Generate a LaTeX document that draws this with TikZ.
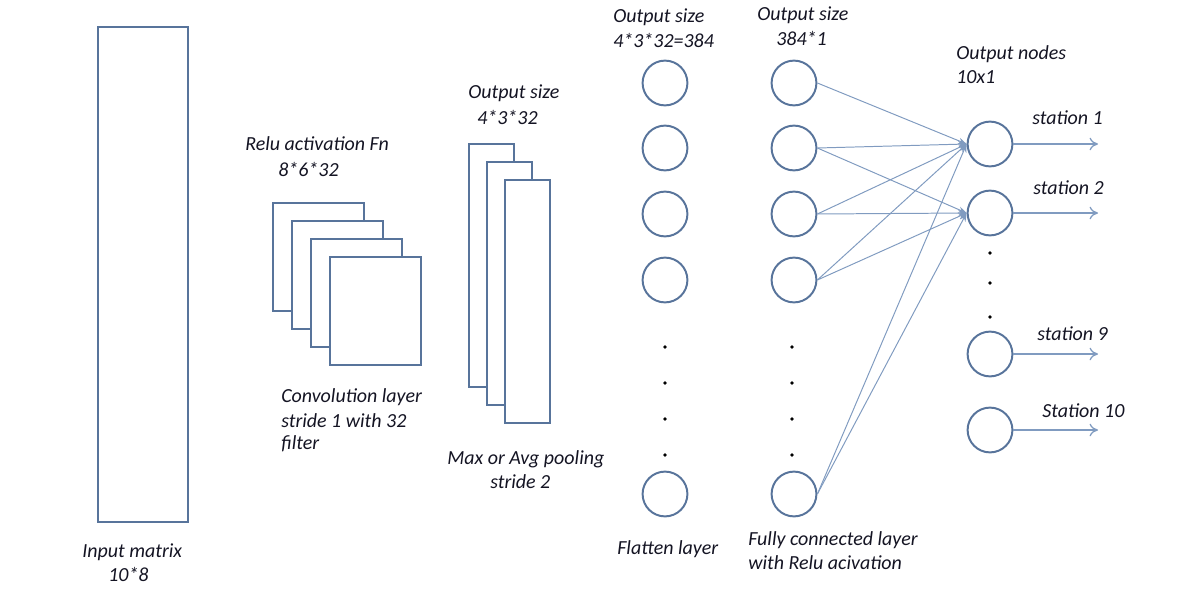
\documentclass[tikz,border=0pt]{standalone}
\usepackage{fontspec}
\setmainfont{Carlito}
\usetikzlibrary{arrows.meta}
\definecolor{boxblue}{RGB}{88,116,155}
\definecolor{linkblue}{RGB}{128,155,192}
\definecolor{txtdark}{RGB}{20,20,35}

\begin{document}
\begin{tikzpicture}[x=0.025cm,y=-0.025cm,
	box/.style={draw=boxblue,line width=1.4pt,fill=white},
	neuron/.style={circle,draw=boxblue,line width=1.4pt,minimum size=1.12cm,inner sep=0pt},
	lbl/.style={anchor=west,font=\itshape\fontsize{14.2}{17}\selectfont,text=txtdark,inner sep=0pt},
	link/.style={draw=linkblue,line width=0.7pt,-{Stealth[length=6pt,width=4.5pt]}},
	outarrow/.style={draw=linkblue,line width=0.9pt,-{To[length=6pt,width=9pt]}}]
	\useasboundingbox (0,0) rectangle (1188,611);

	% input matrix
	\draw[box] (98,27) rectangle (188,522);
	\node[lbl] (inA) at (82,552) {Input matrix};
	\node[lbl] (inB) at (108,574) {10*8};

	% convolution stack
	\foreach \i in {0,...,3}
		\draw[box] (273+19*\i,203+18*\i) rectangle ++(91,108);
	\node[lbl] (convA) at (245,144) {Relu activation Fn};
	\node[lbl] (convB) at (278,169) {8*6*32};
	\node[lbl] (convC) at (281,397) {Convolution layer};
	\node[lbl] (convD) at (281,421) {stride 1 with 32};
	\node[lbl] (convE) at (281,444) {filter};

	% pooling stack
	\foreach \i in {0,1,2}
		\draw[box] (469+18*\i,144+18*\i) rectangle ++(45,243);
	\node[lbl] (poolA) at (468,93) {Output size};
	\node[lbl] (poolB) at (477,117) {4*3*32};
	\node[lbl] (poolC) at (447,459) {Max or Avg pooling};
	\node[lbl] (poolD) at (490,482) {stride 2};

	% flatten and fully connected columns
	\foreach \y [count=\k] in {83,148,214,280,494} {
		\node[neuron] (n\k) at (665,\y) {};
		\node[neuron] (f\k) at (794,\y) {};
	}
	\foreach \y in {347,383,419,455} {
		\fill (665,\y) circle (1.3pt);
		\fill (792,\y) circle (1.3pt);
	}
	\node[lbl] (flatA) at (613,17) {Output size};
	\node[lbl] (flatB) at (613,40) {4*3*32=384};
	\node[lbl] (flatC) at (617,549) {Flatten layer};
	\node[lbl] (fcA) at (757,15) {Output size};
	\node[lbl] (fcB) at (776,38) {384*1};
	\node[lbl] (fcC) at (748,540) {Fully connected layer};
	\node[lbl] (fcD) at (748,563) {with Relu acivation};

	% output layer
	\node[neuron] (o1) at (990,144) {};
	\node[neuron] (o2) at (990,213) {};
	\node[neuron] (o9) at (990,354) {};
	\node[neuron] (o10) at (990,430) {};
	\foreach \y in {253,283,317}
		\fill (990,\y) circle (1.3pt);
	\node[lbl] (outA) at (956,54) {Output nodes};
	\node[lbl] (outB) at (956,77) {10x1};

	\draw[link] (f1.east) -- (o1.west);
	\foreach \k in {2,...,5} {
		\draw[link] (f\k.east) -- (o1.west);
		\draw[link] (f\k.east) -- (o2.west);
	}

	\foreach \k/\y in {1/144,2/213,9/354,10/430} {
		\coordinate (s\k) at (1098,\y);
		\draw[outarrow] (o\k.east) -- (s\k);
	}
	\node[lbl] (st1) at (1032,118) {station 1};
	\node[lbl] (st2) at (1033,188) {station 2};
	\node[lbl] (st9) at (1037,334) {station 9};
	\node[lbl] (st10) at (1042,411) {Station 10};
\end{tikzpicture}
\end{document}
